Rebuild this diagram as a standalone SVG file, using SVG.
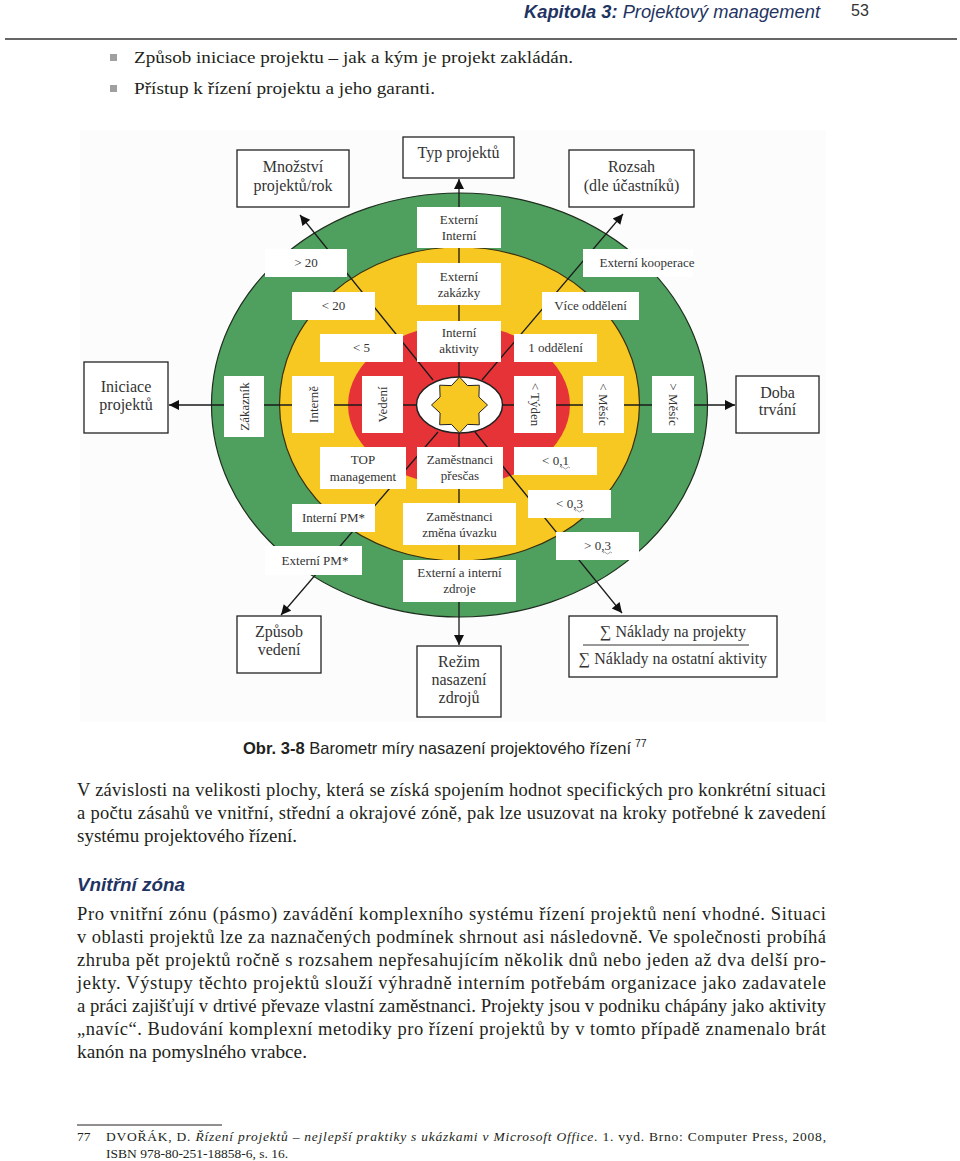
<svg xmlns="http://www.w3.org/2000/svg" width="960" height="1161" viewBox="0 0 960 1161">
<defs>
<style>
.box{fill:#fff;stroke:#222;stroke-width:1.3}
.lbl{fill:#fff}
.dt{font-family:"Liberation Serif","Times New Roman",serif;fill:#333;text-anchor:middle}
.bt{font-size:16px}
.lt{font-size:13px}
.conn{stroke:#1a1a1a;stroke-width:1.3;fill:none}
.body{font-family:"Liberation Serif","Times New Roman",serif;font-size:18.5px;fill:#231f20}
.fn{font-family:"Liberation Serif","Times New Roman",serif;font-size:13.5px;fill:#231f20}
.bul{font-family:"Liberation Serif","Times New Roman",serif;font-size:17.5px;fill:#231f20}
.sans{font-family:"Liberation Sans",Arial,sans-serif}
.navy{fill:#1f3462}
.sq{stroke:#888;stroke-width:0.8;fill:none}
</style>
<marker id="ah" viewBox="0 0 10 10" refX="10" refY="5" markerWidth="12" markerHeight="10" markerUnits="userSpaceOnUse" orient="auto">
<path d="M0,0 L10,5 L0,10 z" fill="#111"/>
</marker>
</defs>
<rect width="960" height="1161" fill="#fff"/>

<!-- header -->
<g id="header">
<text x="524" y="18" class="sans navy" font-size="18" font-style="italic" textLength="296" lengthAdjust="spacingAndGlyphs"><tspan font-weight="bold">Kapitola 3:</tspan> Projektový management</text>
<text x="851" y="16" class="sans" font-size="16" fill="#333">53</text>
<line x1="5" y1="39" x2="957" y2="39" stroke="#333" stroke-width="1.5"/>
</g>

<g id="bullets">
<rect x="110" y="54" width="7" height="7" fill="#a0a0a0"/>
<text x="134" y="63" class="bul" textLength="439" lengthAdjust="spacingAndGlyphs">Způsob iniciace projektu – jak a kým je projekt zakládán.</text>
<rect x="110" y="85" width="7" height="7" fill="#a0a0a0"/>
<text x="134" y="94" class="bul" textLength="301" lengthAdjust="spacingAndGlyphs">Přístup k řízení projektu a jeho garanti.</text>
</g>

<!-- diagram -->
<g id="diagram-bg">
<rect x="80" y="130" width="746" height="592" fill="#fcfcfc"/>
<ellipse cx="459.5" cy="405" rx="248" ry="212" fill="#4f9f5f" stroke="#1e2e1e" stroke-width="1.2"/>
<ellipse cx="459.5" cy="404" rx="180" ry="157" fill="#f8c822" stroke="#3a3010" stroke-width="1.2"/>
<ellipse cx="459" cy="405" rx="111" ry="80" fill="#e63338"/>
<ellipse cx="459.5" cy="405" rx="43" ry="28" fill="#fff" stroke="#222" stroke-width="1.5"/>
<polygon id="star" fill="#f8c822" stroke="#222" stroke-width="1" points="459.5,377 467.5,385.6 479.3,385.2 478.9,397 487.5,405 478.9,413 479.3,424.8 467.5,424.4 459.5,433 451.5,424.4 439.7,424.8 440.1,413 431.5,405 440.1,397 439.7,385.2 451.5,385.6"/>
</g>

<g id="connectors">
<line class="conn" x1="459" y1="377" x2="459" y2="179" marker-end="url(#ah)"/>
<line class="conn" x1="459" y1="433" x2="459" y2="645" marker-end="url(#ah)"/>
<line class="conn" x1="417" y1="405" x2="169" y2="405" marker-end="url(#ah)"/>
<line class="conn" x1="502" y1="405" x2="735" y2="405" marker-end="url(#ah)"/>
<line class="conn" x1="433" y1="380" x2="300" y2="215" marker-end="url(#ah)"/>
<line class="conn" x1="482" y1="380" x2="623" y2="214" marker-end="url(#ah)"/>
<line class="conn" x1="438" y1="432" x2="281" y2="615" marker-end="url(#ah)"/>
<line class="conn" x1="475" y1="432" x2="622" y2="613" marker-end="url(#ah)"/>
</g>

<!-- labels on rings -->
<g id="lbl-ext-int"><rect class="lbl" x="417" y="207" width="84" height="41"/><text class="dt lt" x="459" y="224">Externí</text><text class="dt lt" x="459" y="240">Interní</text></g>
<g id="lbl-ext-zak"><rect class="lbl" x="417" y="263" width="84" height="42"/><text class="dt lt" x="459" y="281">Externí</text><text class="dt lt" x="459" y="297">zakázky</text></g>
<g id="lbl-int-akt"><rect class="lbl" x="417" y="321" width="84" height="41"/><text class="dt lt" x="459" y="337">Interní</text><text class="dt lt" x="459" y="353">aktivity</text></g>

<g id="lbl-gt20"><rect class="lbl" x="265" y="249" width="82" height="28"/><text class="dt lt" x="306" y="267">&gt; 20</text></g>
<g id="lbl-lt20"><rect class="lbl" x="292" y="292" width="83" height="28"/><text class="dt lt" x="333.5" y="310">&lt; 20</text></g>
<g id="lbl-lt5"><rect class="lbl" x="320" y="334" width="83" height="28"/><text class="dt lt" x="361.5" y="352">&lt; 5</text></g>

<g id="lbl-extkoop"><rect class="lbl" x="583" y="249" width="110" height="28"/><text class="dt lt" x="647" y="267">Externí kooperace</text></g>
<g id="lbl-vice"><rect class="lbl" x="542" y="292" width="97" height="28"/><text class="dt lt" x="590.5" y="310">Více oddělení</text></g>
<g id="lbl-1odd"><rect class="lbl" x="514" y="334" width="83" height="28"/><text class="dt lt" x="555.5" y="352">1 oddělení</text></g>

<g id="lbl-zakaznik"><rect class="lbl" x="224" y="376" width="40" height="61"/><text class="dt lt" transform="translate(244,406.5) rotate(-90)" x="0" y="4.5">Zákazník</text></g>
<g id="lbl-interne"><rect class="lbl" x="292" y="376" width="42" height="57"/><text class="dt lt" transform="translate(313,404.5) rotate(-90)" x="0" y="4.5">Interně</text></g>
<g id="lbl-vedeni"><rect class="lbl" x="362" y="376" width="41" height="57"/><text class="dt lt" transform="translate(382.5,404.5) rotate(-90)" x="0" y="4.5">Vedení</text></g>
<g id="lbl-tyden"><rect class="lbl" x="514" y="376" width="42" height="57"/><text class="dt lt" transform="translate(535,404.5) rotate(90)" x="0" y="4.5">&lt; Týden</text></g>
<g id="lbl-mesic1"><rect class="lbl" x="583" y="376" width="41" height="57"/><text class="dt lt" transform="translate(603.5,404.5) rotate(90)" x="0" y="4.5">&lt; Měsíc</text></g>
<g id="lbl-mesic2"><rect class="lbl" x="652" y="376" width="42" height="57"/><text class="dt lt" transform="translate(673,404.5) rotate(90)" x="0" y="4.5">&gt; Měsíc</text></g>

<g id="lbl-top"><rect class="lbl" x="320" y="447" width="86" height="42"/><text class="dt lt" x="363" y="464">TOP</text><text class="dt lt" x="363" y="481">management</text></g>
<g id="lbl-intpm"><rect class="lbl" x="292" y="504" width="83" height="28"/><text class="dt lt" x="333.5" y="522">Interní PM*</text></g>
<g id="lbl-extpm"><rect class="lbl" x="265" y="546" width="97" height="29"/><text class="dt lt" x="315" y="565">Externí PM*</text></g>

<g id="lbl-presc"><rect class="lbl" x="417" y="447" width="86" height="42"/><text class="dt lt" x="460" y="464">Zaměstnanci</text><text class="dt lt" x="460" y="480">přesčas</text></g>
<g id="lbl-uvaz"><rect class="lbl" x="403" y="503" width="113" height="42"/><text class="dt lt" x="459.5" y="521">Zaměstnanci</text><text class="dt lt" x="459.5" y="537">změna úvazku</text></g>
<g id="lbl-zdroje"><rect class="lbl" x="403" y="560" width="113" height="42"/><text class="dt lt" x="459.5" y="577">Externí a interní</text><text class="dt lt" x="459.5" y="593">zdroje</text></g>

<g id="lbl-01"><rect class="lbl" x="514" y="447" width="83" height="28"/><text class="dt lt" x="555.5" y="465">&lt; 0,1</text><path class="sq" d="M561,468 q1.5,-2 3,0 t3,0 t3,0"/></g>
<g id="lbl-03a"><rect class="lbl" x="528" y="490" width="83" height="28"/><text class="dt lt" x="569.5" y="508">&lt; 0,3</text><path class="sq" d="M575,511 q1.5,-2 3,0 t3,0 t3,0"/></g>
<g id="lbl-03b"><rect class="lbl" x="556" y="532" width="83" height="28"/><text class="dt lt" x="597.5" y="550">&gt; 0,3</text><path class="sq" d="M603,553 q1.5,-2 3,0 t3,0 t3,0"/></g>

<!-- outer boxes -->
<g id="box-mnozstvi"><rect class="box" x="237" y="150" width="112" height="57"/><text class="dt bt" x="293" y="172">Množství</text><text class="dt bt" x="293" y="191">projektů/rok</text></g>
<g id="box-typ"><rect class="box" x="403" y="137" width="111" height="41"/><text class="dt bt" x="458.5" y="158">Typ projektů</text></g>
<g id="box-rozsah"><rect class="box" x="569" y="150" width="125" height="57"/><text class="dt bt" x="631.5" y="172">Rozsah</text><text class="dt bt" x="631.5" y="191">(dle účastníků)</text></g>
<g id="box-iniciace"><rect class="box" x="84" y="362" width="84" height="71"/><text class="dt bt" x="126" y="392">Iniciace</text><text class="dt bt" x="126" y="410">projektů</text></g>
<g id="box-doba"><rect class="box" x="736" y="376" width="83" height="57"/><text class="dt bt" x="777.5" y="398">Doba</text><text class="dt bt" x="777.5" y="415">trvání</text></g>
<g id="box-zpusob"><rect class="box" x="237" y="616" width="84" height="57"/><text class="dt bt" x="279" y="637">Způsob</text><text class="dt bt" x="279" y="655">vedení</text></g>
<g id="box-rezim"><rect class="box" x="417" y="646" width="84" height="71"/><text class="dt bt" x="459" y="667">Režim</text><text class="dt bt" x="459" y="685">nasazení</text><text class="dt bt" x="459" y="703">zdrojů</text></g>
<g id="box-naklady"><rect class="box" x="569" y="616" width="208" height="61"/><text class="dt bt" x="673" y="637">∑ Náklady na projekty</text><line x1="583" y1="645" x2="749" y2="645" stroke="#333" stroke-width="1"/><text class="dt bt" x="673" y="664">∑ Náklady na ostatní aktivity</text></g>

<!-- caption and text -->
<g id="caption">
<text x="243" y="754" class="sans" font-size="16.5" fill="#231f20" textLength="388" lengthAdjust="spacingAndGlyphs"><tspan font-weight="bold">Obr. 3-8</tspan> Barometr míry nasazení projektového řízení</text>
<text x="635" y="747" class="sans" font-size="10.5" fill="#231f20">77</text>
</g>

<g id="para1">
<text x="77" y="796" class="body" textLength="749" lengthAdjust="spacing">V závislosti na velikosti plochy, která se získá spojením hodnot specifických pro konkrétní situaci</text>
<text x="77" y="819" class="body" textLength="749" lengthAdjust="spacing">a počtu zásahů ve vnitřní, střední a okrajové zóně, pak lze usuzovat na kroky potřebné k zavedení</text>
<text x="77" y="842" class="body" textLength="220" lengthAdjust="spacingAndGlyphs">systému projektového řízení.</text>
</g>

<g id="heading">
<text x="77" y="891" class="sans navy" font-size="19" font-weight="bold" font-style="italic" textLength="108" lengthAdjust="spacingAndGlyphs">Vnitřní zóna</text>
</g>

<g id="para2">
<text x="77" y="920" class="body" textLength="749" lengthAdjust="spacing">Pro vnitřní zónu (pásmo) zavádění komplexního systému řízení projektů není vhodné. Situaci</text>
<text x="77" y="943" class="body" textLength="749" lengthAdjust="spacing">v oblasti projektů lze za naznačených podmínek shrnout asi následovně. Ve společnosti probíhá</text>
<text x="77" y="966" class="body" textLength="749" lengthAdjust="spacing">zhruba pět projektů ročně s rozsahem nepřesahujícím několik dnů nebo jeden až dva delší pro-</text>
<text x="77" y="989" class="body" textLength="749" lengthAdjust="spacing">jekty. Výstupy těchto projektů slouží výhradně interním potřebám organizace jako zadavatele</text>
<text x="77" y="1012" class="body" textLength="749" lengthAdjust="spacingAndGlyphs">a práci zajišťují v drtivé převaze vlastní zaměstnanci. Projekty jsou v podniku chápány jako aktivity</text>
<text x="77" y="1035" class="body" textLength="749" lengthAdjust="spacing">„navíc“. Budování komplexní metodiky pro řízení projektů by v tomto případě znamenalo brát</text>
<text x="77" y="1058" class="body" textLength="230" lengthAdjust="spacingAndGlyphs">kanón na pomyslného vrabce.</text>
</g>

<g id="footnote">
<line x1="77" y1="1125" x2="222" y2="1125" stroke="#231f20" stroke-width="1"/>
<text x="77" y="1141" class="fn">77</text>
<text x="106" y="1141" class="fn" textLength="720" lengthAdjust="spacing">DVOŘÁK, D. <tspan font-style="italic">Řízení projektů – nejlepší praktiky s ukázkami v Microsoft Office</tspan>. 1. vyd. Brno: Computer Press, 2008,</text>
<text x="106" y="1158" class="fn">ISBN 978-80-251-18858-6, s. 16.</text>
</g>
</svg>
